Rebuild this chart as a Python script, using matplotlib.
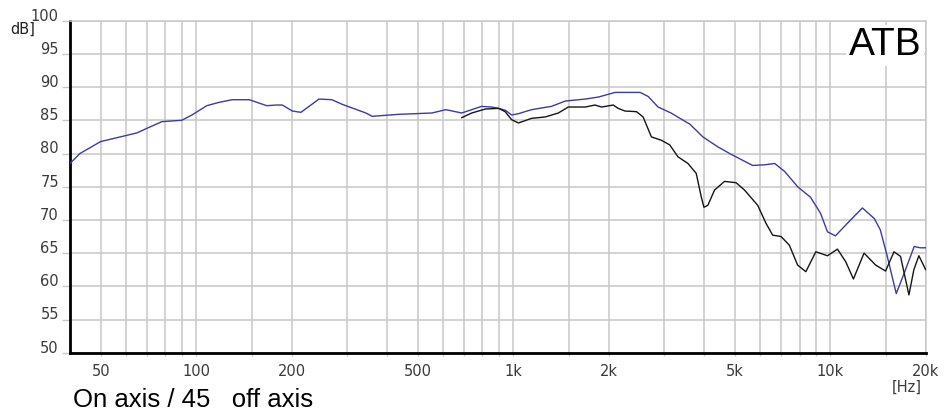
import matplotlib
matplotlib.use("Agg")
import matplotlib.pyplot as plt

# ---- data ----
on_axis_freq = [40, 43, 50, 60, 65, 70, 78, 90, 97, 108, 118, 130, 147, 167, 179, 187,
                201, 214, 244, 268, 289, 343, 359, 436, 493, 554, 613, 688, 795, 855,
                899, 946, 988, 1039, 1142, 1320, 1460, 1688, 1855, 2097, 2514, 2664,
                2863, 3146, 3610, 3965, 4420, 4857, 5692, 6212, 6680, 7179, 7889, 8668,
                9318, 9800, 10384, 11330, 12626, 13773, 14383, 15132, 16149, 17115,
                18397, 19212, 20000]
on_axis_db = [78.5, 80.0, 81.8, 82.7, 83.1, 83.8, 84.8, 85.0, 85.8, 87.2, 87.7, 88.1,
              88.1, 87.2, 87.3, 87.3, 86.4, 86.2, 88.2, 88.1, 87.4, 86.1, 85.6, 85.9,
              86.0, 86.1, 86.6, 86.1, 87.1, 87.0, 86.8, 86.5, 85.8, 86.0, 86.6, 87.1,
              87.9, 88.2, 88.5, 89.2, 89.2, 88.6, 87.0, 86.1, 84.4, 82.5, 81.0, 79.9,
              78.2, 78.3, 78.5, 77.3, 75.0, 73.4, 71.0, 68.2, 67.6, 69.5, 71.8, 70.2,
              68.5, 64.5, 58.9, 62.0, 66.0, 65.8, 65.8]

off_axis_freq = [688, 740, 817, 899, 943, 988, 1039, 1144, 1261, 1388, 1492, 1688, 1811,
                 1900, 2067, 2143, 2250, 2448, 2569, 2728, 2932, 3116, 3309, 3558, 3778,
                 3917, 3995, 4111, 4316, 4640, 5047, 5363, 5904, 6268, 6583, 6993, 7428,
                 7889, 8375, 9005, 9800, 10536, 11188, 11832, 12781, 13900, 14944, 15888,
                 16660, 17705, 18353, 19033, 20000]
off_axis_db = [85.4, 86.1, 86.7, 86.8, 86.3, 85.1, 84.6, 85.3, 85.5, 86.1, 87.0, 87.0,
               87.3, 87.0, 87.3, 86.8, 86.4, 86.3, 85.5, 82.5, 82.0, 81.3, 79.5, 78.5,
               77.0, 73.5, 71.9, 72.2, 74.5, 75.8, 75.6, 74.5, 72.2, 69.5, 67.7, 67.5,
               66.2, 63.2, 62.2, 65.2, 64.6, 65.6, 63.7, 61.1, 65.0, 63.2, 62.3, 65.2,
               64.5, 58.7, 62.5, 64.6, 62.5]

grid_freqs = [50, 60, 70, 80, 90, 100, 150, 200, 300, 400, 500, 600, 700, 800, 900,
              1000, 1500, 2000, 3000, 4000, 5000, 6000, 7000, 8000, 9000, 10000, 15000, 20000]
xtick_vals = [50, 100, 200, 500, 1000, 2000, 5000, 10000, 20000]
xtick_labels = ["50", "100", "200", "500", "1k", "2k", "5k", "10k", "20k"]
ytick_vals = [50, 55, 60, 65, 70, 75, 80, 85, 90, 95, 100]

W, H = 951, 413
fig = plt.figure(figsize=(W / 100, H / 100), dpi=100)
ax = fig.add_axes([70 / W, 1 - 352.7 / H, (925.7 - 70) / W, (352.7 - 20.7) / H])

grid_col = "#c8c8c8"
ax.set_xscale("log")
ax.set_xlim(40, 20000)
ax.set_ylim(50, 100)

ax.set_xticks(grid_freqs, minor=True)
ax.set_xticks(xtick_vals)
ax.set_xticklabels(xtick_labels)
ax.set_yticks(ytick_vals)
ax.set_yticklabels([str(v) for v in ytick_vals])
ax.grid(which="both", axis="x", color=grid_col, linewidth=1.1)
ax.grid(which="major", axis="y", color=grid_col, linewidth=1.1)
ax.set_axisbelow(True)

ax.tick_params(axis="x", which="both", length=2, color=grid_col, width=1,
               labelsize=10.5, labelcolor="#3a3a3a", pad=6)
ax.tick_params(axis="x", which="minor", labelbottom=False)
ax.tick_params(axis="y", which="major", length=6, color=grid_col, width=1,
               labelsize=10.5, labelcolor="#3a3a3a", pad=2)
for lab in ax.get_yticklabels():
    lab.set_verticalalignment("baseline")
for lab in ax.get_xticklabels() + ax.get_yticklabels():
    lab.set_family("DejaVu Sans")

for side in ("top", "right"):
    ax.spines[side].set_color(grid_col)
    ax.spines[side].set_linewidth(1.1)
for side in ("left", "bottom"):
    ax.spines[side].set_color("black")
    ax.spines[side].set_linewidth(2.0)

ax.plot(on_axis_freq, on_axis_db, color="#3b3ba6", linewidth=1.0, zorder=3)
ax.plot(off_axis_freq, off_axis_db, color="#151515", linewidth=1.0, zorder=4)

ax.text(0.995, 0.98, "ATB", transform=ax.transAxes, ha="right", va="top",
        fontsize=28, family="Liberation Sans", color="black", zorder=5,
        bbox=dict(facecolor="white", edgecolor="none", pad=2))

fig.text(10 / W, 1 - 29 / H, "dB]", ha="left", va="center", fontsize=10.5,
         family="DejaVu Sans", color="#222222")
fig.text(906.7 / W, 1 - 387 / H, "[Hz]", ha="center", va="center", fontsize=10.5,
         family="DejaVu Sans", color="#3a3a3a")
fig.text(73 / W, 1 - 400 / H, "On axis / 45   off axis", ha="left", va="center",
         fontsize=18.5, family="Liberation Sans", color="black")

fig.savefig("out.png", dpi=100)
